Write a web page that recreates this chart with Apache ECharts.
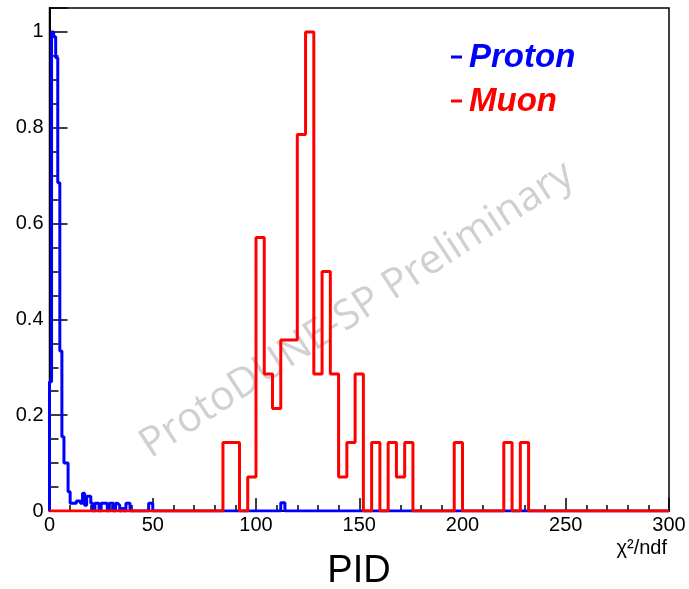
<!DOCTYPE html>
<html>
<head>
<meta charset="utf-8">
<script src="https://cdn.jsdelivr.net/npm/echarts@6/dist/echarts.min.js"></script>
<style>
  html, body { margin: 0; padding: 0; background: #ffffff; }
  #chart { width: 689px; height: 589px; }
</style>
</head>
<body>
<div id="chart"></div>
<script>
// PID chi2/ndf distributions, normalised to the peak bin.

// Proton histogram: 1-unit bins starting at chi2/ndf = 0
const protonStart = 0;
const protonWidth = 1;
const protonValues = [
  0.27, 1.0, 0.99, 0.946, 0.685, 0.334, 0.155, 0.10, 0.10, 0.04,
  0.016, 0.016, 0.016, 0.021, 0.021, 0.016, 0.037, 0.012, 0.031, 0.031,
  0.016, 0.0, 0.016, 0.016, 0.0, 0.016, 0.016, 0.016, 0.0, 0.016,
  0.016, 0.0, 0.016, 0.012, 0.0, 0.005, 0.0, 0.016, 0.016, 0.0,
  0.0, 0.0, 0.0, 0.0, 0.0, 0.0, 0.0, 0.0, 0.016, 0.016
];
// Isolated proton entry further out
const protonTailStart = 112;
const protonTailWidth = 1;
const protonTailValues = [0.017, 0.017];

// Muon histogram: 4-unit bins starting at chi2/ndf = 84
const muonStart = 84;
const muonWidth = 4;
const muonValues = [
  0.143, 0.143, 0.0, 0.071, 0.571, 0.286, 0.214, 0.357, 0.357, 0.786,
  1.0, 0.286, 0.5, 0.286, 0.071, 0.143, 0.286, 0.0, 0.143, 0.0,
  0.143, 0.071, 0.143, 0.0, 0.0, 0.0, 0.0, 0.0, 0.143, 0.0,
  0.0, 0.0, 0.0, 0.0, 0.143, 0.0, 0.143
];

const xMin = 0, xMax = 300, xStep = 50;
const yMin = 0, yMax = 1.05, yStep = 0.2;

// Turn histogram segments into outline points for a stepped line
function outline(segments) {
  const pts = [[xMin, 0]];
  segments.forEach(function (s) {
    s.values.forEach(function (v, i) {
      pts.push([s.start + i * s.width, v]);
    });
    pts.push([s.start + s.values.length * s.width, 0]);
  });
  pts.push([xMax, 0]);
  return pts;
}

const protonPoints = outline([
  { start: protonStart, width: protonWidth, values: protonValues },
  { start: protonTailStart, width: protonTailWidth, values: protonTailValues }
]);
const muonPoints = outline([
  { start: muonStart, width: muonWidth, values: muonValues }
]);

const chart = echarts.init(document.getElementById('chart'), null, { renderer: 'canvas' });
const labelFont = '"Liberation Sans Narrow", "Liberation Sans", Arial, sans-serif';

chart.setOption({
  animation: false,
  backgroundColor: '#ffffff',
  grid: {
    left: 49.5, top: 8, right: 20, bottom: 78,
    show: true, borderColor: '#000000', borderWidth: 1.5, backgroundColor: 'transparent'
  },
  xAxis: {
    type: 'value', min: xMin, max: xMax, interval: xStep,
    axisLine: { show: true, lineStyle: { color: '#000', width: 2 } },
    axisTick: { show: true, inside: true, length: 13, lineStyle: { color: '#000', width: 1.5 } },
    minorTick: { show: true, splitNumber: 5, length: 6, lineStyle: { color: '#000', width: 1.5 } },
    splitLine: { show: false },
    axisLabel: { color: '#000', fontSize: 20, fontFamily: labelFont, margin: 4 }
  },
  yAxis: {
    type: 'value', min: yMin, max: yMax, interval: yStep,
    axisLine: { show: true, lineStyle: { color: '#000', width: 2 } },
    axisTick: { show: true, inside: true, length: 18, lineStyle: { color: '#000', width: 1.5 } },
    minorTick: { show: true, splitNumber: 4, length: 9, lineStyle: { color: '#000', width: 1.5 } },
    splitLine: { show: false },
    axisLabel: {
      color: '#000', fontSize: 20, fontFamily: labelFont, margin: 6,
      showMaxLabel: false,
      formatter: function (v) { return String(Math.round(v * 10) / 10); }
    }
  },
  series: [
    {
      name: 'Proton', type: 'line', step: 'end', data: protonPoints,
      symbol: 'none', z: 3,
      lineStyle: { color: '#0000ff', width: 3 }
    },
    {
      name: 'Muon', type: 'line', step: 'end', data: muonPoints,
      symbol: 'none', z: 4,
      lineStyle: { color: '#ff0000', width: 3 }
    }
  ],
  graphic: [
    {
      type: 'text', x: 357, y: 310, rotation: 0.578, z: 1,
      style: {
        text: 'ProtoDUNE-SP Preliminary', fill: '#d0d0d0',
        font: '41px "Open Sans", "Liberation Sans", sans-serif',
        textAlign: 'center', textVerticalAlign: 'middle'
      }
    },
    { type: 'rect', shape: { x: 451, y: 55.5, width: 11, height: 3 }, style: { fill: '#0000ff' } },
    {
      type: 'text', x: 469, y: 58,
      style: { text: 'Proton', fill: '#0000ff', font: 'italic bold 33px "Liberation Sans", Arial, sans-serif', textVerticalAlign: 'middle' }
    },
    { type: 'rect', shape: { x: 451, y: 99.5, width: 11, height: 3 }, style: { fill: '#ff0000' } },
    {
      type: 'text', x: 469, y: 102,
      style: { text: 'Muon', fill: '#ff0000', font: 'italic bold 33px "Liberation Sans", Arial, sans-serif', textVerticalAlign: 'middle' }
    },
    {
      type: 'text', x: 667, y: 548,
      style: { text: 'χ²/ndf', fill: '#000', font: '20px "Liberation Sans Narrow", "Liberation Sans", Arial, sans-serif', textAlign: 'right', textVerticalAlign: 'middle' }
    },
    {
      type: 'text', x: 359, y: 572,
      style: { text: 'PID', fill: '#000', font: '38px "Liberation Sans", Arial, sans-serif', textAlign: 'center', textVerticalAlign: 'middle' }
    }
  ]
});
</script>
</body>
</html>
